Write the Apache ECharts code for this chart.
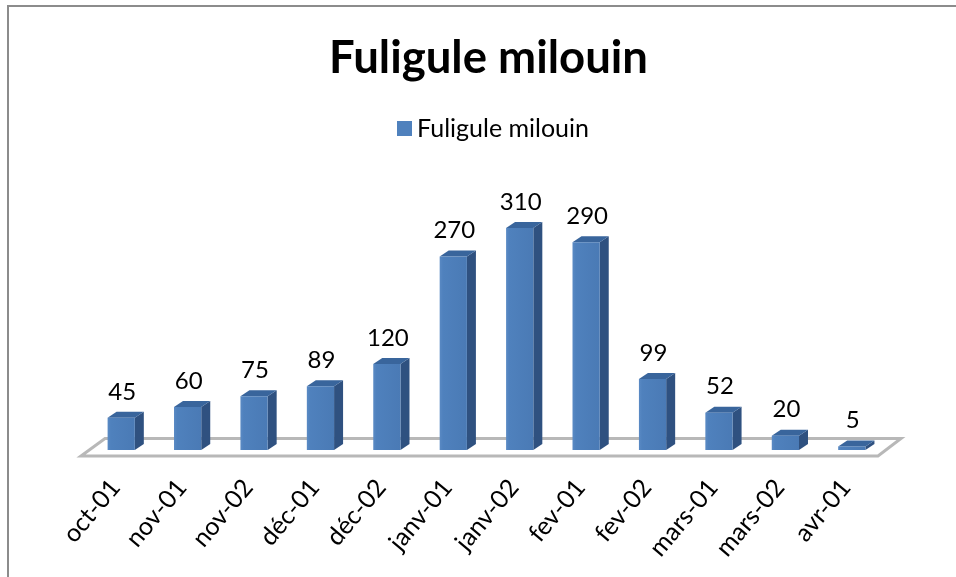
<!DOCTYPE html>
<html><head><meta charset="utf-8">
<style>html,body{margin:0;padding:0;background:#fff}#c{width:956px;height:577px}</style>
<script src="https://cdn.jsdelivr.net/npm/echarts@6/dist/echarts.min.js"></script>
</head><body><div id="c"></div>
<script>
const categories = ['oct-01','nov-01','nov-02','déc-01','déc-02','janv-01','janv-02','fev-01','fev-02','mars-01','mars-02','avr-01'];
const values = [45,60,75,89,120,270,310,290,99,52,20,5];
const seriesName = 'Fuligule milouin';
const FONT = 'Lato, "Open Sans", sans-serif';
const DX = 9, DY = 6;

const chart = echarts.init(document.getElementById('c'), null, {renderer:'canvas'});

function renderBar(params, api){
  const v = api.value(1);
  const top = api.coord([api.value(0), v]);
  const base = api.coord([api.value(0), 0]);
  const w = api.size([1,0])[0]*0.41;
  const cx = top[0], x0 = cx-w/2, x1 = cx+w/2, yt = top[1], yb = base[1];
  return {type:'group', children:[
    {type:'polygon', shape:{points:[[x1,yb],[x1+DX,yb-DY],[x1+DX,yt-DY],[x1,yt]]}, style:{fill:'#2f5180'}},
    {type:'polygon', shape:{points:[[x0,yt],[x1,yt],[x1+DX,yt-DY],[x0+DX,yt-DY]]}, style:{fill:'#39659c'}},
    {type:'rect', shape:{x:x0,y:yt,width:w,height:yb-yt},
      style:{fill:new echarts.graphic.LinearGradient(0,0,1,0,[{offset:0,color:'#5a8ac4'},{offset:.12,color:'#4f81bd'},{offset:1,color:'#4a7ab5'}])}},
    {type:'text', x:cx+1, y:yt-26, style:{text:String(v), font:'24px '+FONT, fill:'#000', align:'center', verticalAlign:'middle'}}
  ]};
}
function renderFloor(params, api){
  if(params.dataIndex!==0) return;
  const c = params.coordSys, b = c.y+c.height, l = c.x, r = c.x+c.width;
  return {type:'polygon', shape:{points:[[l-7,b+6],[r-7,b+6],[r+16,b-11.5],[l+17,b-11.5]]},
    style:{fill:'#fff', stroke:'#b8b8b8', lineWidth:3}};
}
chart.setOption({
  animation:false,
  backgroundColor:'#fff',
  title:{text:seriesName,top:35,padding:0,itemGap:0,
    left:329,textStyle:{fontFamily:FONT,fontWeight:'bold',fontSize:45.5,color:'#000'}},
  legend:{data:[{name:seriesName,icon:'rect',itemStyle:{color:'#4f81bd'}}],
    left:392,top:111,itemWidth:15,itemHeight:15,itemGap:6,
    textStyle:{fontFamily:FONT,fontSize:25,color:'#000',padding:[0,0,0,0]}},
  grid:{left:88,top:163.5,width:797,height:286.5},
  xAxis:{type:'category',data:categories,
    axisLine:{show:false},axisTick:{show:false},
    axisLabel:{rotate:50,interval:0,margin:26,padding:[0,9,0,0],fontFamily:FONT,fontSize:25,color:'#000'}},
  yAxis:{type:'value',min:0,max:400,show:false,splitLine:{show:false}},
  graphic:[{type:'polyline',silent:true,shape:{points:[[8,577],[8,6],[956,6]]},style:{stroke:'#8c8c8c',lineWidth:2,fill:null}}],
  series:[
    {type:'custom',name:'floor',renderItem:renderFloor,data:values.slice(0,1).map((v,i)=>[i,v]),silent:true,z:1,clip:false},
    {type:'custom',name:seriesName,renderItem:renderBar,data:values.map((v,i)=>[i,v]),encode:{x:0,y:1},z:2,clip:false,itemStyle:{color:'#4f81bd'}}
  ]
});
</script></body></html>
